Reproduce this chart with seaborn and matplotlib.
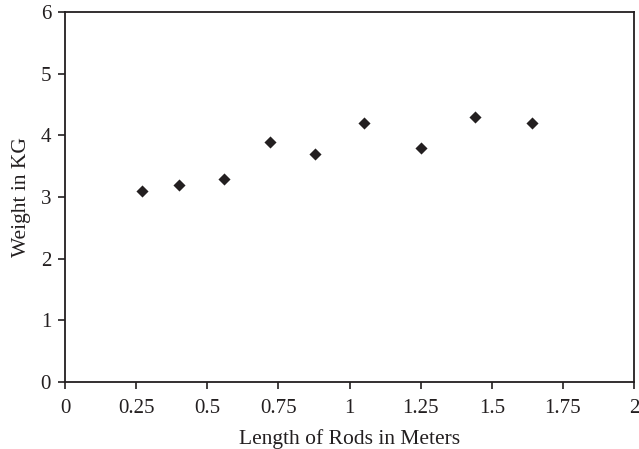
import pandas as pd
import matplotlib
matplotlib.use("Agg")
import matplotlib.pyplot as plt
import seaborn as sns

# Values
rod_length = [0.27, 0.40, 0.56, 0.72, 0.88, 1.05, 1.25, 1.44, 1.64]
weight_kg = [3.1, 3.2, 3.3, 3.9, 3.7, 4.2, 3.8, 4.3, 4.2]
x_ticks = [0, 0.25, 0.5, 0.75, 1, 1.25, 1.5, 1.75, 2]
x_tick_labels = ["0", "0.25", "0.5", "0.75", "1", "1.25", "1.5", "1.75", "2"]
y_ticks = [0, 1, 2, 3, 4, 5, 6]

df = pd.DataFrame({"Length": rod_length, "Weight": weight_kg})

sns.set_style("ticks")
plt.rcParams["font.family"] = ["Liberation Serif", "DejaVu Serif"]
ink = "#231f20"

fig = plt.figure(figsize=(6.39, 4.49), dpi=100)
ax = fig.add_axes([0.1017, 0.149, 0.8905, 0.824])

sns.scatterplot(data=df, x="Length", y="Weight", marker="D", s=38,
                color=ink, edgecolor=ink, linewidth=0, ax=ax)

ax.set_xlim(0, 2)
ax.set_ylim(0, 6)
ax.set_xticks(x_ticks)
ax.set_xticklabels(x_tick_labels)
ax.set_yticks(y_ticks)
ax.tick_params(direction="out", length=5, width=1.2, colors=ink,
               labelsize=15)
ax.tick_params(axis="y", pad=5)
ax.tick_params(axis="x", pad=7)
for side in ["left", "bottom", "top", "right"]:
    ax.spines[side].set_visible(True)
    ax.spines[side].set_color(ink)
    ax.spines[side].set_linewidth(1.3)

ax.set_xlabel("Length of Rods in Meters", fontsize=15.5, color=ink, labelpad=8)
ax.set_ylabel("Weight in KG", fontsize=15.5, color=ink, labelpad=7)

fig.savefig("out.png", dpi=100)
